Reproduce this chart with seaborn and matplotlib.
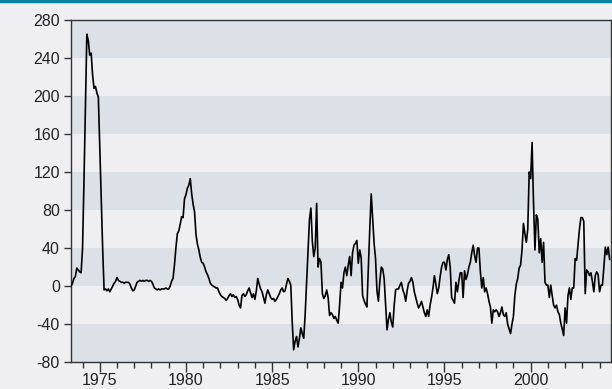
import numpy as np
import pandas as pd
import matplotlib
matplotlib.use("Agg")
import matplotlib.pyplot as plt
from matplotlib.ticker import MultipleLocator
from matplotlib.lines import Line2D
import seaborn as sns

# monthly series, May 1973 - Aug 2004
start_year = 1973
start_month = 5
values = [
    # 1973 (May-Dec)
    0, 3, 8, 10, 19, 17, 15, 14,
    # 1974
    40, 110, 190, 265, 258, 243, 245, 222, 208, 210, 203, 199,
    # 1975
    145, 90, 40, -4, -3, -5, -3, -6, -3, 0, 3, 5,
    # 1976
    9, 6, 5, 4, 4, 3, 4, 4, 4, 2, -2, -5,
    # 1977
    -4, 0, 4, 5, 6, 5, 6, 5, 6, 6, 5, 6,
    # 1978
    5, 2, -2, -3, -4, -3, -4, -3, -3, -3, -2, -3,
    # 1979
    -3, 0, 5, 8, 22, 40, 55, 58, 65, 73, 72, 92,
    # 1980
    96, 103, 106, 113, 97, 86, 78, 54, 44, 38, 30, 25,
    # 1981
    24, 20, 15, 12, 8, 3, 1, 0, -1, -2, -2, -6,
    # 1982
    -9, -11, -12, -13, -15, -13, -10, -8, -11, -9, -12, -11,
    # 1983
    -14, -20, -23, -10, -8, -11, -9, -5, -2, -7, -12, -8,
    # 1984
    -14, -5, 8, 2, -3, -6, -12, -18, -9, -4, -8, -12,
    # 1985
    -14, -13, -16, -14, -11, -8, -4, -2, -6, -5, 2, 8,
    # 1986
    5, 1, -38, -67, -58, -53, -64, -55, -44, -50, -55, -30,
    # 1987
    4, 40, 70, 82, 47, 31, 40, 87, 20, 29, 25, -8,
    # 1988
    -13, -10, -4, -12, -31, -28, -30, -34, -32, -36, -39, -20,
    # 1989
    4, -2, 14, 20, 11, 22, 31, 11, 35, 43, 45, 48,
    # 1990
    24, 38, 30, -10, -15, -19, -22, 20, 60, 97, 70, 45,
    # 1991
    29, -5, -16, 5, 20, 18, 8, -20, -46, -35, -28, -38,
    # 1992
    -43, -20, -4, -3, -3, 1, 4, -4, -8, -16, -5, 3,
    # 1993
    5, 9, 4, -6, -12, -18, -23, -20, -16, -22, -28, -32,
    # 1994
    -25, -32, -20, -12, -2, 11, 2, -8, -2, 10, 20, 25,
    # 1995
    25, 17, 28, 33, 20, -12, -15, -18, 4, -6, 5, 14,
    # 1996
    14, -12, 16, 7, 12, 20, 25, 35, 43, 32, 25, 40,
    # 1997
    40, 15, -2, 9, -6, -2, -8, -16, -22, -39, -25, -27,
    # 1998
    -25, -27, -32, -28, -22, -30, -32, -28, -40, -45, -50, -40,
    # 1999
    -32, -10, 2, 8, 19, 22, 38, 66, 55, 46, 60, 120,
    # 2000
    113, 151, 88, 38, 75, 70, 35, 50, 25, 46, 4, 1,
    # 2001
    1, -12, 1, -10, -20, -23, -20, -27, -30, -39, -45, -52,
    # 2002
    -23, -39, -10, -2, -14, -2, -2, 29, 27, 43, 60, 72,
    # 2003
    72, 68, -8, 17, 15, 11, 14, 5, -6, 11, 15, 12,
    # 2004 (Jan-Aug)
    -6, 1, 1, 20, 41, 33, 41, 28,
]

y_ticks = [-80, -40, 0, 40, 80, 120, 160, 200, 240, 280]
x_ticks = [1975, 1980, 1985, 1990, 1995, 2000]

t = start_year + (start_month - 1) / 12 + np.arange(len(values)) / 12
df = pd.DataFrame({"date": t, "value": values})

sns.set_style("ticks")
plt.rcParams["font.family"] = ["Liberation Sans Narrow", "Liberation Sans", "DejaVu Sans"]
plt.rcParams["axes.unicode_minus"] = False

bg = "#efeff1"
band = "#dce0e7"

fig = plt.figure(figsize=(6.12, 3.89), dpi=100, facecolor=bg)
ax = fig.add_axes([0.116, 0.069, 0.882, 0.880])
ax.set_facecolor(bg)

# alternating grey bands
for lo in y_ticks[::2]:
    ax.axhspan(lo, lo + 40, color=band, lw=0, zorder=0)

sns.lineplot(data=df, x="date", y="value", color="black", lw=1.2, ax=ax, zorder=3)

ax.set_xlim(1973.33, 2004.65)
ax.set_ylim(-80, 280)
ax.set_yticks(y_ticks)
ax.set_xticks(x_ticks)
ax.xaxis.set_minor_locator(MultipleLocator(1))
ax.set_xlabel("")
ax.set_ylabel("")

for s in ax.spines.values():
    s.set_visible(True)
    s.set_color("#333333")
    s.set_linewidth(1.0)

ax.tick_params(axis="y", length=5, width=1, color="#333333", labelsize=11.5, pad=3, labelcolor="#222222")
ax.tick_params(axis="x", which="major", length=7, width=1, color="#333333", labelsize=11.5, pad=0.5, labelcolor="#222222")
ax.tick_params(axis="x", which="minor", length=4, width=1, color="#333333")

# teal rule at the top of the figure
fig.add_artist(Line2D([0, 1], [0.997, 0.997], color="#0a7fa6", lw=2.5, transform=fig.transFigure))

fig.savefig("out.png", dpi=100, facecolor=bg)
